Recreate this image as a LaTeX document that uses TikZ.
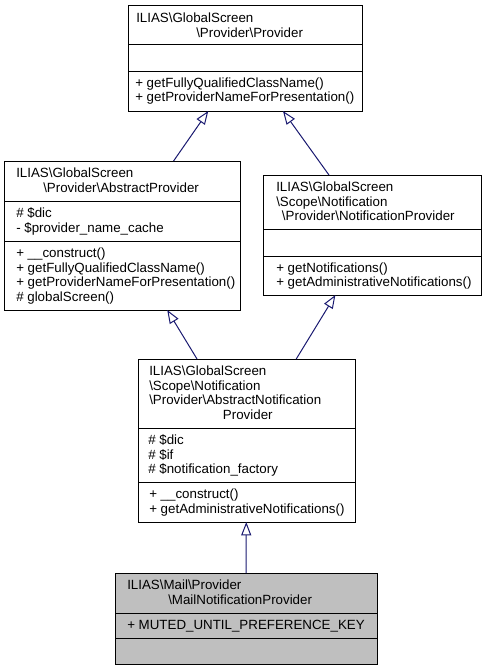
\documentclass[tikz,border=0pt]{standalone}
\usepackage{fontspec}
\setmainfont{Liberation Sans}
\usetikzlibrary{arrows.meta,fit}
\definecolor{edgeblue}{HTML}{191970}
\definecolor{curfill}{HTML}{BFBFBF}
\newcommand{\bs}{\textbackslash}
\begin{document}
\begin{tikzpicture}[x=0.75pt,y=-0.75pt,
  classbox/.style={draw=black,line width=0.75pt,inner sep=0pt,outer sep=0pt,fill=white},
  currentbox/.style={classbox,fill=curfill},
  sepline/.style={draw=black,line width=0.75pt},
  txt/.style={inner sep=0pt,font=\fontsize{10}{12}\selectfont,anchor=base west},
  inherit/.style={draw=edgeblue,line width=0.75pt,-{Triangle[open,length=10pt,width=7.5pt,fill=white]}}
]
\useasboundingbox (0,0) rectangle (485,669);

% Box 1: Provider
\node[classbox, fit={(128,5) (362,111)}] (b1) {};
\draw[sepline] (128,44) -- (362,44);
\draw[sepline] (128,71) -- (362,71);
\node[txt] (b1t1) at (136,22.5) {ILIAS\bs GlobalScreen};
\node[txt] (b1t2) at (196,37) {\bs Provider\bs Provider};
\node[txt] (b1m1) at (135,87.5) {+ getFullyQualifiedClassName()};
\node[txt] (b1m2) at (135,101.5) {+ getProviderNameForPresentation()};

% Box 2: AbstractProvider
\node[classbox, fit={(4,161) (240,310)}] (b2) {};
\draw[sepline] (4,201) -- (240,201);
\draw[sepline] (4,241) -- (240,241);
\node[txt] (b2t1) at (16,177.75) {ILIAS\bs GlobalScreen};
\node[txt] (b2t2) at (43,192.25) {\bs Provider\bs AbstractProvider};
\node[txt] (b2a1) at (16,217.75) {\# \$dic};
\node[txt] (b2a2) at (16,232.25) {- \$provider\_name\_cache};
\node[txt] (b2m1) at (16,257.75) {+ \_\_construct()};
\node[txt] (b2m2) at (16,272.25) {+ getFullyQualifiedClassName()};
\node[txt] (b2m3) at (16,286.75) {+ getProviderNameForPresentation()};
\node[txt] (b2m4) at (16,301.25) {\# globalScreen()};

% Box 3: NotificationProvider
\node[classbox, fit={(263,175) (481,295)}] (b3) {};
\draw[sepline] (263,229) -- (481,229);
\draw[sepline] (263,256) -- (481,256);
\node[txt] (b3t1) at (276,191.5) {ILIAS\bs GlobalScreen};
\node[txt] (b3t2) at (276,206) {\bs Scope\bs Notification};
\node[txt] (b3t3) at (281.7,220.5) {\bs Provider\bs NotificationProvider};
\node[txt] (b3m1) at (276,272.25) {+ getNotifications()};
\node[txt] (b3m2) at (276,286.75) {+ getAdministrativeNotifications()};

% Box 4: AbstractNotificationProvider
\node[classbox, fit={(138,359) (355,522)}] (b4) {};
\draw[sepline] (138,428) -- (355,428);
\draw[sepline] (138,482) -- (355,482);
\node[txt] (b4t1) at (149,375.75) {ILIAS\bs GlobalScreen};
\node[txt] (b4t2) at (149,390.25) {\bs Scope\bs Notification};
\node[txt] (b4t3) at (149,404.75) {\bs Provider\bs AbstractNotification};
\node[txt] (b4t4) at (222.7,419.25) {Provider};
\node[txt] (b4a1) at (148,444.5) {\# \$dic};
\node[txt] (b4a2) at (148,459) {\# \$if};
\node[txt] (b4a3) at (148,473.5) {\# \$notification\_factory};
\node[txt] (b4m1) at (149,498.75) {+ \_\_construct()};
\node[txt] (b4m2) at (149,513.25) {+ getAdministrativeNotifications()};

% Box 5: MailNotificationProvider
\node[currentbox, fit={(115,573) (377,664)}] (b5) {};
\draw[sepline] (115,613) -- (377,613);
\draw[sepline] (115,638) -- (377,638);
\node[txt] (b5t1) at (127,589.75) {ILIAS\bs Mail\bs Provider};
\node[txt] (b5t2) at (168,604.25) {\bs MailNotificationProvider};
\node[txt] (b5a1) at (127,629.5) {+ MUTED\_UNTIL\_PREFERENCE\_KEY};

% Inheritance connectors
\draw[inherit] (b2) -- (b1);
\draw[inherit] (b3) -- (b1);
\draw[inherit] (b4) -- (b2);
\draw[inherit] (b4) -- (b3);
\draw[inherit] (b5) -- (b4);
\end{tikzpicture}
\end{document}
